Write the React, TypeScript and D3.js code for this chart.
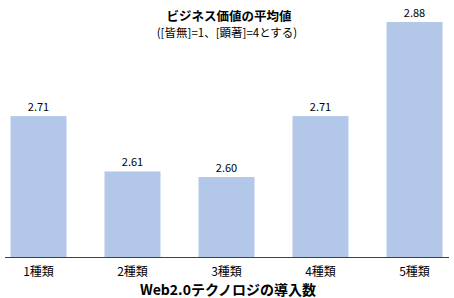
import React from "react";
import * as d3 from "d3";

const categories = ["1種類", "2種類", "3種類", "4種類", "5種類"];
const values = [2.71, 2.61, 2.6, 2.71, 2.88];
const valueLabels = ["2.71", "2.61", "2.60", "2.71", "2.88"];
const title = "ビジネス価値の平均値";
const subtitle = "([皆無]=1、[顕著]=4とする)";
const xTitle = "Web2.0テクノロジの導入数";

const W = 454;
const H = 298;
const FONT = "'Noto Sans CJK JP', 'Noto Sans', sans-serif";

export default function App() {
  const x = d3.scalePoint<string>().domain(categories).range([38.5, 414.5]);
  const y = d3.scaleLinear().domain([2.4555, 2.88]).range([257, 22]);
  const barW = 56;
  return (
    <svg
      width={W}
      height={H}
      style={{ position: "absolute", left: 0, top: 0, background: "#fff" }}
      fontFamily={FONT}
    >
      <text x={229} y={21} textAnchor="middle" fontSize={12.5} fontWeight="bold" fill="#000">
        {title}
      </text>
      <text x={227} y={36.5} textAnchor="middle" fontSize={11.5} fill="#000">
        {subtitle}
      </text>
      {values.map((v, i) => (
        <g key={i}>
          <rect
            x={(x(categories[i]) as number) - barW / 2}
            y={y(v)}
            width={barW}
            height={257 - y(v)}
            fill="#b3c8e8"
          />
          <text
            x={x(categories[i]) as number}
            y={y(v) - 5}
            textAnchor="middle"
            fontSize={11}
            fill="#000"
          >
            {valueLabels[i]}
          </text>
        </g>
      ))}
      <line x1={5} x2={449} y1={257.5} y2={257.5} stroke="#404040" strokeWidth={1} />
      {categories.map((c) => (
        <text key={c} x={x(c) as number} y={276} textAnchor="middle" fontSize={12} fill="#000">
          {c}
        </text>
      ))}
      <text x={228} y={295} textAnchor="middle" fontSize={14} fontWeight="bold" fill="#000">
        {xTitle}
      </text>
    </svg>
  );
}
